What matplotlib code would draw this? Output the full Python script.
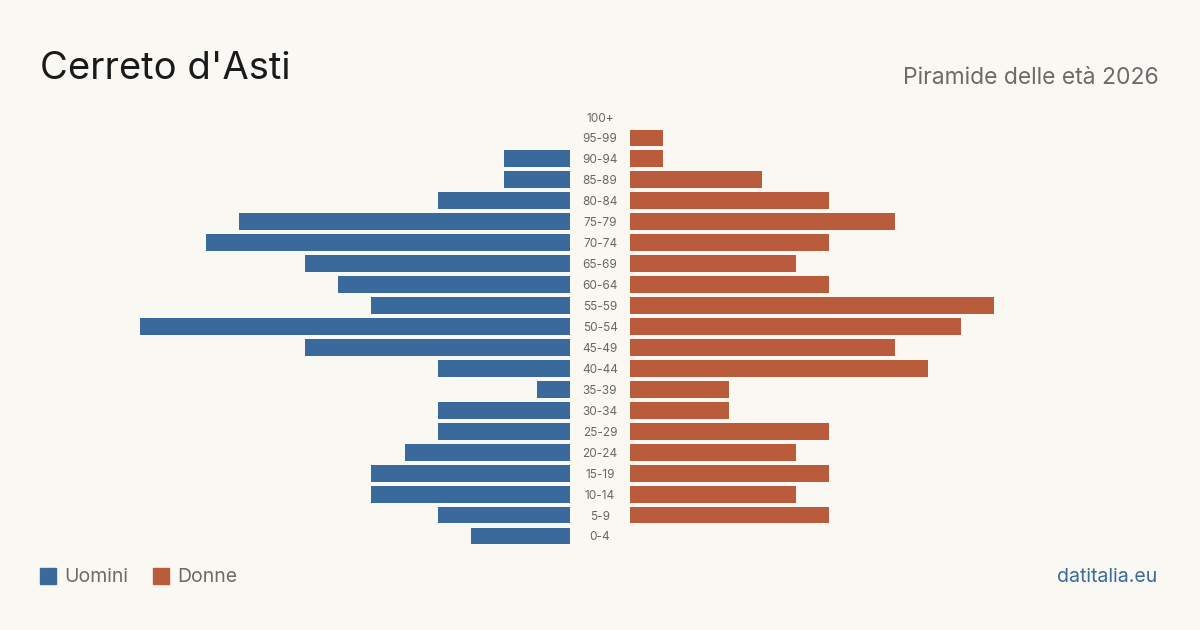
import matplotlib.pyplot as plt
from matplotlib.patches import Rectangle

plt.rcParams['font.family'] = ['Inter', 'DejaVu Sans']

ages = ["0-4", "5-9", "10-14", "15-19", "20-24", "25-29", "30-34", "35-39",
        "40-44", "45-49", "50-54", "55-59", "60-64", "65-69", "70-74",
        "75-79", "80-84", "85-89", "90-94", "95-99", "100+"]
uomini = [3, 4, 6, 6, 5, 4, 4, 1, 4, 8, 13, 6, 7, 8, 11, 10, 4, 2, 2, 0, 0]
donne = [0, 6, 5, 6, 5, 6, 3, 3, 9, 8, 10, 11, 6, 5, 6, 8, 6, 4, 1, 1, 0]

BLUE = "#3a6a9b"
ORANGE = "#b95c3c"
BG = "#f9f8f3"
W, H = 1200, 630

fig = plt.figure(figsize=(12, 6.3), dpi=100, facecolor=BG)

# pixel box -> figure coords
def box(x0, x1, ytop, ybot):
    return [x0 / W, 1 - ybot / H, (x1 - x0) / W, (ybot - ytop) / H]

xmax = 13
ax_l = fig.add_axes(box(570 - 33.1 * xmax, 570, 106.5, 546.5))
ax_r = fig.add_axes(box(630, 630 + 33.1 * xmax, 106.5, 546.5))
ypos = list(range(len(ages)))

ax_l.barh(ypos, uomini, height=0.8, color=BLUE)
ax_r.barh(ypos, donne, height=0.8, color=ORANGE)
ax_l.set_xlim(xmax, 0)
ax_r.set_xlim(0, xmax)
for ax in (ax_l, ax_r):
    ax.set_ylim(-0.5, len(ages) - 0.5)
    ax.axis("off")

# age labels in the centre gap
for i, lab in enumerate(ages):
    fig.text(600 / W, 1 - (537.5 - i * 20.95) / H, lab, ha="center", va="center",
             fontsize=8.5, color="#666666")

fig.text(40 / W, 1 - 69 / H, "Cerreto d'Asti", fontsize=27.5, color="#1a1a1a",
         ha="left", va="center")
fig.text(1159 / W, 1 - 78 / H, "Piramide delle età 2026", fontsize=16.5,
         color="#6b6b6b", ha="right", va="center")

# legend
fig.patches.append(Rectangle((40 / W, 1 - 584 / H), 16 / W, 16 / H,
                             transform=fig.transFigure, color=BLUE))
fig.text(64 / W, 1 - 577 / H, "Uomini", fontsize=14, color="#6b6b6b",
         ha="left", va="center")
fig.patches.append(Rectangle((153 / W, 1 - 584 / H), 16 / W, 16 / H,
                             transform=fig.transFigure, color=ORANGE))
fig.text(177 / W, 1 - 577 / H, "Donne", fontsize=14, color="#6b6b6b",
         ha="left", va="center")

fig.text(1157 / W, 1 - 577 / H, "datitalia.eu", fontsize=14, color=BLUE,
         ha="right", va="center")

fig.savefig("out.png", dpi=100, facecolor=BG)
